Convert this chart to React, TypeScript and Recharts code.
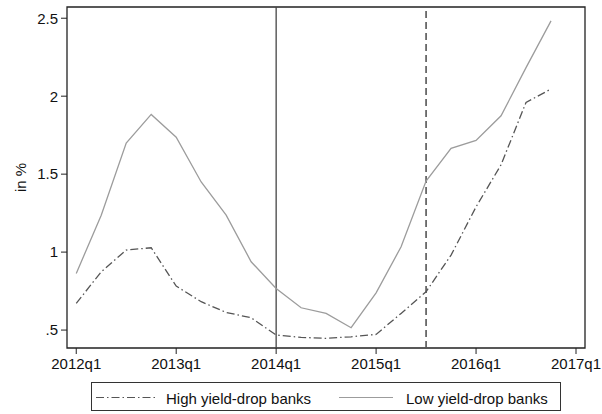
import React from 'react';
import {
  LineChart,
  Line,
  XAxis,
  YAxis,
  ReferenceLine,
  ReferenceArea,
} from 'recharts';

// quarters 2012q1 .. 2016q4
const quarters = [
  '2012q1', '2012q2', '2012q3', '2012q4',
  '2013q1', '2013q2', '2013q3', '2013q4',
  '2014q1', '2014q2', '2014q3', '2014q4',
  '2015q1', '2015q2', '2015q3', '2015q4',
  '2016q1', '2016q2', '2016q3', '2016q4',
];

const highYieldDrop = [
  0.671, 0.874, 1.013, 1.028, 0.782, 0.682, 0.613, 0.579, 0.468, 0.453,
  0.447, 0.457, 0.472, 0.607, 0.746, 0.981, 1.29, 1.56, 1.96, 2.046,
];

const lowYieldDrop = [
  0.863, 1.237, 1.70, 1.883, 1.737, 1.45, 1.237, 0.938, 0.767, 0.643,
  0.607, 0.515, 0.739, 1.034, 1.456, 1.666, 1.716, 1.874, 2.183, 2.483,
];

const xTickPositions = [0, 4, 8, 12, 16, 20];
const xTickLabels = ['2012q1', '2013q1', '2014q1', '2015q1', '2016q1', '2017q1'];
const yTicks = [0.5, 1, 1.5, 2, 2.5];

const X_DOMAIN: [number, number] = [-0.37, 20.36];
const Y_DOMAIN: [number, number] = [0.385, 2.572];

const FONT = '"Liberation Sans", Arial, Helvetica, sans-serif';
const HIGH_COLOR = '#555555';
const LOW_COLOR = '#9c9c9c';
const DASH_DOT = '8 3 1.5 3';

const data = quarters.map((q, i) => ({
  t: i,
  quarter: q,
  high: highYieldDrop[i],
  low: lowYieldDrop[i],
}));

const formatY = (v: number) => (v === 0.5 ? '.5' : String(v));
const formatX = (v: number) => xTickLabels[xTickPositions.indexOf(v)] ?? '';

const YLabel = (props: any) => {
  const { viewBox } = props;
  const x = viewBox.x + 20;
  const y = viewBox.y + viewBox.height / 2;
  return (
    <text
      x={x}
      y={y}
      transform={`rotate(-90, ${x}, ${y})`}
      textAnchor="middle"
      dominantBaseline="central"
      fontSize={15}
      fontFamily={FONT}
      fill="#111"
    >
      in %
    </text>
  );
};

const LegendBox = () => (
  <div
    style={{
      position: 'absolute',
      left: 91,
      top: 382,
      width: 470,
      height: 29,
      border: '1px solid #333',
      boxSizing: 'border-box',
      fontFamily: FONT,
      fontSize: 15,
      color: '#111',
    }}
  >
    <svg width={470} height={29} style={{ position: 'absolute', left: 0, top: 0 }}>
      <line x1={4} y1={14.5} x2={66} y2={14.5} stroke={HIGH_COLOR} strokeWidth={1.2} strokeDasharray={DASH_DOT} />
      <text x={74} y={15} dominantBaseline="central" fontFamily={FONT} fontSize={15} fill="#111">
        High yield-drop banks
      </text>
      <line x1={247} y1={14.5} x2={301} y2={14.5} stroke={LOW_COLOR} strokeWidth={1.2} />
      <text x={314} y={15} dominantBaseline="central" fontFamily={FONT} fontSize={15} fill="#111">
        Low yield-drop banks
      </text>
    </svg>
  </div>
);

export default function App() {
  return (
    <div style={{ position: 'absolute', left: 0, top: 0, width: 602, height: 414, background: '#fff' }}>
      <LineChart
        width={602}
        height={414}
        data={data}
        margin={{ top: 7, right: 17, left: 0, bottom: 32 }}
      >
        <ReferenceArea
          x1={X_DOMAIN[0]}
          x2={X_DOMAIN[1]}
          y1={Y_DOMAIN[0]}
          y2={Y_DOMAIN[1]}
          fill="none"
          stroke="#222"
          strokeWidth={1.3}
          ifOverflow="visible"
        />
        <XAxis
          dataKey="t"
          type="number"
          domain={X_DOMAIN}
          allowDataOverflow
          ticks={xTickPositions}
          tickFormatter={formatX}
          height={34}
          tickSize={6}
          tickMargin={4}
          axisLine={false}
          tickLine={{ stroke: '#222' }}
          tick={{ fontSize: 15, fontFamily: FONT, fill: '#111' }}
          interval={0}
        />
        <YAxis
          type="number"
          domain={Y_DOMAIN}
          allowDataOverflow
          ticks={yTicks}
          tickFormatter={formatY}
          width={67}
          tickSize={6}
          tickMargin={3}
          axisLine={false}
          tickLine={{ stroke: '#222' }}
          tick={{ fontSize: 15, fontFamily: FONT, fill: '#111' }}
          interval={0}
          label={<YLabel />}
        />
        <ReferenceLine x={8} stroke="#444" strokeWidth={1.3} />
        <ReferenceLine x={14} stroke="#555" strokeWidth={1.6} strokeDasharray="7 4" />
        <Line
          dataKey="low"
          stroke={LOW_COLOR}
          strokeWidth={1.3}
          dot={false}
          isAnimationActive={false}
          type="linear"
        />
        <Line
          dataKey="high"
          stroke={HIGH_COLOR}
          strokeWidth={1.3}
          strokeDasharray={DASH_DOT}
          dot={false}
          isAnimationActive={false}
          type="linear"
        />
      </LineChart>
      <LegendBox />
    </div>
  );
}
